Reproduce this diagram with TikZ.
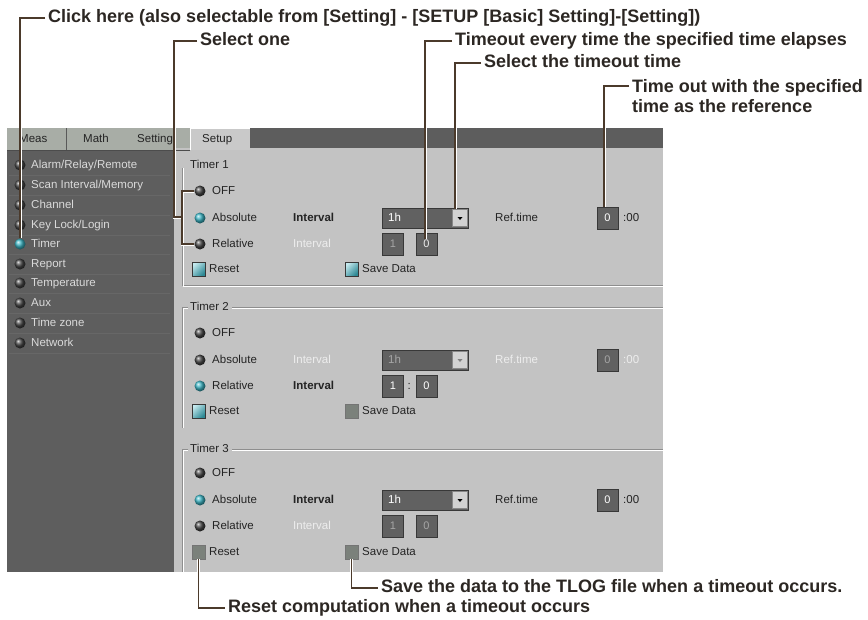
\documentclass[tikz,border=0pt]{standalone}
\usepackage{fontspec}
\setmainfont{Liberation Sans}
\usetikzlibrary{calc}
\definecolor{annc}{HTML}{2C2723}
\definecolor{linec}{HTML}{4B3A2B}
\definecolor{menubg}{HTML}{5E5E5E}
\definecolor{menusep}{HTML}{676767}
\definecolor{panelbg}{HTML}{C3C3C3}
\definecolor{tabbg}{HTML}{A8ADA6}
\definecolor{setupbg}{HTML}{C9C9C9}
\definecolor{topbar}{HTML}{5D5D5D}
\definecolor{fieldbg}{HTML}{616161}
\definecolor{fieldedge}{HTML}{383838}
\definecolor{ballcyan}{HTML}{3DB6C6}
\definecolor{balldark}{HTML}{454545}
\definecolor{chkoffc}{HTML}{7B817B}
\definecolor{distxt}{HTML}{EDEDED}
\definecolor{distxtb}{HTML}{A6A6A6}
\definecolor{menutxt}{HTML}{DADADA}
\definecolor{uitxt}{HTML}{242424}
\definecolor{etchdark}{HTML}{8E8E8E}
\definecolor{btnbg}{HTML}{D2D2D2}
\begin{document}
\begin{tikzpicture}[x=1pt,y=-1pt,
  ann/.style={font=\fontsize{18}{21}\selectfont\bfseries, text=annc, anchor=west, inner xsep=3pt, inner ysep=0pt, text height=13pt, text depth=4pt},
  anntwo/.style={font=\fontsize{18}{20}\selectfont\bfseries, text=annc, anchor=north west, inner xsep=3pt, inner ysep=0pt, align=left},
  conn/.style={draw=linec, line width=1.1pt, preaction={draw=white, line width=3pt}},
  ui/.style={font=\fontsize{11.5}{13}\selectfont, text=uitxt, anchor=west, inner sep=0pt, text height=8pt, text depth=2pt},
  uib/.style={ui, font=\fontsize{11.5}{13}\selectfont\bfseries},
  menu/.style={ui, text=menutxt},
  dis/.style={ui, text=distxt},
  radio/.style={circle, minimum size=11pt, inner sep=0pt, ball color=balldark},
  radioon/.style={circle, minimum size=11pt, inner sep=0pt, ball color=ballcyan},
  chkon/.style={minimum width=13pt, minimum height=14pt, inner sep=0pt, draw=fieldedge, left color=ballcyan!30!white, right color=ballcyan!75!black, shading angle=45},
  chkoff/.style={minimum width=13pt, minimum height=14pt, inner sep=0pt, draw=fieldedge!70!white, fill=chkoffc},
  ddbox/.style={minimum width=86pt, minimum height=20pt, inner sep=0pt, fill=fieldbg, draw=fieldedge},
  ddbtn/.style={minimum width=15pt, minimum height=17pt, inner sep=0pt, fill=btnbg, draw=fieldedge!60!white},
  numbox/.style={minimum width=21pt, minimum height=22pt, inner sep=0pt, fill=fieldbg, draw=fieldedge, font=\fontsize{11}{12}\selectfont},
  etch/.style={draw=etchdark, line width=0.9pt},
  etchw/.style={draw=white, line width=0.9pt},
]
\useasboundingbox[fill=white] (0,0) rectangle (868,619);

% ---------- screen backgrounds ----------
\fill[tabbg] (7,128) rectangle (190,150);
\draw[draw=gray!70!black, line width=0.8pt] (66,128) -- (66,150);
\fill[topbar] (250,128) rectangle (663,148);
\fill[panelbg] (174,148) rectangle (663,572);
\fill[setupbg] (190,128) rectangle (250,150);
\draw[white, line width=0.8pt] (190,150) -- (190,128.5) -- (250,128.5);
\fill[menubg] (7,150) rectangle (174,572);
\draw[draw=gray!60!black, line width=0.8pt] (7,150) -- (190,150);

\node[ui] (tabMeas) at (19,139) {Meas};
\node[ui] (tabMath) at (83,139) {Math};
\node[ui] (tabSetting) at (137,139) {Setting};
\node[ui] (tabSetup) at (202,139) {Setup};

% ---------- left menu ----------
\foreach \yy in {175,195,215,235,254,274,293,313,333,353}
  \draw[menusep, line width=0.7pt] (9,\yy) -- (170,\yy);
\node[radio] (mAlarm) at (20,165) {};
\node[menu] (tAlarm) at (31,165) {Alarm/Relay/Remote};
\node[radio] (mScan) at (20,185) {};
\node[menu] (tScan) at (31,185) {Scan Interval/Memory};
\node[radio] (mChan) at (20,205) {};
\node[menu] (tChan) at (31,205) {Channel};
\node[radio] (mKey) at (20,225) {};
\node[menu] (tKey) at (31,225) {Key Lock/Login};
\node[radioon] (mTimer) at (20,244) {};
\node[menu] (tTimer) at (31,244) {Timer};
\node[radio] (mRep) at (20,264) {};
\node[menu] (tRep) at (31,264) {Report};
\node[radio] (mTemp) at (20,283) {};
\node[menu] (tTemp) at (31,283) {Temperature};
\node[radio] (mAux) at (20,303) {};
\node[menu] (tAux) at (31,303) {Aux};
\node[radio] (mZone) at (20,323) {};
\node[menu] (tZone) at (31,323) {Time zone};
\node[radio] (mNet) at (20,343) {};
\node[menu] (tNet) at (31,343) {Network};

% ---------- group frames ----------
\draw[etch] (182,168) -- (182,285) -- (663,285);
\draw[etchw] (183.2,168) -- (183.2,286.3) -- (663,286.3);
\draw[etch] (188,307) -- (182,307) -- (182,428);
\draw[etch] (232,307) -- (663,307);
\draw[etchw] (188,308.2) -- (183.2,308.2) -- (183.2,428);
\draw[etchw] (232,308.2) -- (663,308.2);
\draw[etch] (188,449) -- (182,449) -- (182,572);
\draw[etch] (232,449) -- (663,449);
\draw[etchw] (188,450.2) -- (183.2,450.2) -- (183.2,572);
\draw[etchw] (232,450.2) -- (663,450.2);

% ---------- Timer 1 ----------
\node[ui] (g1) at (190,165) {Timer 1};
\node[radio] (off1) at (200,191) {};
\node[ui] (off1t) at (212,191) {OFF};
\node[radioon] (abs1) at (200,218) {};
\node[ui] (abs1t) at (212,218) {Absolute};
\node[uib] (int1a) at (293,218) {Interval};
\node[ddbox] (dd1) at (425,218) {};
\node[ui, text=white] (dd1t) at (388,218) {1h};
\node[ddbtn] (b1) at (460,218) {};
\fill[black] ($(b1)+(-2.5,-1)$) -- ($(b1)+(2.5,-1)$) -- ($(b1)+(0,2)$) -- cycle;
\node[ui] (ref1t) at (495,218) {Ref.time};
\node[numbox, text=white] (ref1) at (607.5,218) {0};
\node[ui] (ref1c) at (623,218) {:00};
\node[radio] (rel1) at (200,244) {};
\node[ui] (rel1t) at (212,244) {Relative};
\node[dis] (int1b) at (293,244) {Interval};
\node[numbox, text=distxtb] (h1) at (393,244) {1};
\node[numbox, text=distxt] (m1) at (426.5,244) {0};
\node[chkon] (rst1) at (198.5,269) {};
\node[ui] (rst1t) at (209,269) {Reset};
\node[chkon] (sav1) at (351.5,269) {};
\node[ui] (sav1t) at (362,269) {Save Data};

% ---------- Timer 2 ----------
\node[ui] (g2) at (190,307) {Timer 2};
\node[radio] (off2) at (200,333) {};
\node[ui] (off2t) at (212,333) {OFF};
\node[radio] (abs2) at (200,360) {};
\node[ui] (abs2t) at (212,360) {Absolute};
\node[dis] (int2a) at (293,360) {Interval};
\node[ddbox] (dd2) at (425,360) {};
\node[ui, text=distxtb] (dd2t) at (388,360) {1h};
\node[ddbtn] (b2) at (460,360) {};
\fill[gray] ($(b2)+(-2.5,-1)$) -- ($(b2)+(2.5,-1)$) -- ($(b2)+(0,2)$) -- cycle;
\node[dis] (ref2t) at (495,360) {Ref.time};
\node[numbox, text=distxtb] (ref2) at (607.5,360) {0};
\node[dis] (ref2c) at (623,360) {:00};
\node[radioon] (rel2) at (200,386) {};
\node[ui] (rel2t) at (212,386) {Relative};
\node[uib] (int2b) at (293,386) {Interval};
\node[numbox, text=white] (h2) at (393,386) {1};
\node[ui] (c2) at (407.5,386) {:};
\node[numbox, text=white] (m2) at (426.5,386) {0};
\node[chkon] (rst2) at (198.5,411) {};
\node[ui] (rst2t) at (209,411) {Reset};
\node[chkoff] (sav2) at (351.5,411) {};
\node[ui] (sav2t) at (362,411) {Save Data};

% ---------- Timer 3 ----------
\node[ui] (g3) at (190,449) {Timer 3};
\node[radio] (off3) at (200,473) {};
\node[ui] (off3t) at (212,473) {OFF};
\node[radioon] (abs3) at (200,500) {};
\node[ui] (abs3t) at (212,500) {Absolute};
\node[uib] (int3a) at (293,500) {Interval};
\node[ddbox] (dd3) at (425,500) {};
\node[ui, text=white] (dd3t) at (388,500) {1h};
\node[ddbtn] (b3) at (460,500) {};
\fill[black] ($(b3)+(-2.5,-1)$) -- ($(b3)+(2.5,-1)$) -- ($(b3)+(0,2)$) -- cycle;
\node[ui] (ref3t) at (495,500) {Ref.time};
\node[numbox, text=white] (ref3) at (607.5,500) {0};
\node[ui] (ref3c) at (623,500) {:00};
\node[radio] (rel3) at (200,526) {};
\node[ui] (rel3t) at (212,526) {Relative};
\node[dis] (int3b) at (293,526) {Interval};
\node[numbox, text=distxtb] (h3) at (393,526) {1};
\node[numbox, text=distxtb] (m3) at (426.5,526) {0};
\node[chkoff] (rst3) at (198.5,552) {};
\node[ui] (rst3t) at (209,552) {Reset};
\node[chkoff] (sav3) at (351.5,552) {};
\node[ui] (sav3t) at (362,552) {Save Data};

% ---------- annotations ----------
\node[ann] (clickT) at (45,18) {Click here (also selectable from [Setting] - [SETUP [Basic] Setting]-[Setting])};
\node[ann] (selT) at (197,41) {Select one};
\node[ann] (toT) at (452,41) {Timeout every time the specified time elapses};
\node[ann] (stT) at (481,63) {Select the timeout time};
\node[anntwo] (twT) at (629,79) {Time out with the specified\\time as the reference};
\node[ann] (saveT) at (378,588) {Save the data to the TLOG file when a timeout occurs.};
\node[ann] (resetT) at (225,608) {Reset computation when a timeout occurs};

\coordinate (selJ) at (174,217);
\coordinate (selB) at (182,217);
\coordinate (toE) at (425,239);
\coordinate (stE) at (455,209);
\coordinate (twE) at (604,207);

\draw[conn] (clickT.west) -| (mTimer.north);
\draw[conn] (selT.west) -| (selJ) -- (selB) (off1.west) -| (selB) |- (rel1.west);
\draw[conn] (toT.west) -| (toE);
\draw[conn] (stT.west) -| (stE);
\draw[conn] ($(twT.north west)+(0,7)$) -| (twE);
\draw[conn] (sav3.south) |- (saveT.west);
\draw[conn] (rst3.south) |- (resetT.west);
\end{tikzpicture}
\end{document}
